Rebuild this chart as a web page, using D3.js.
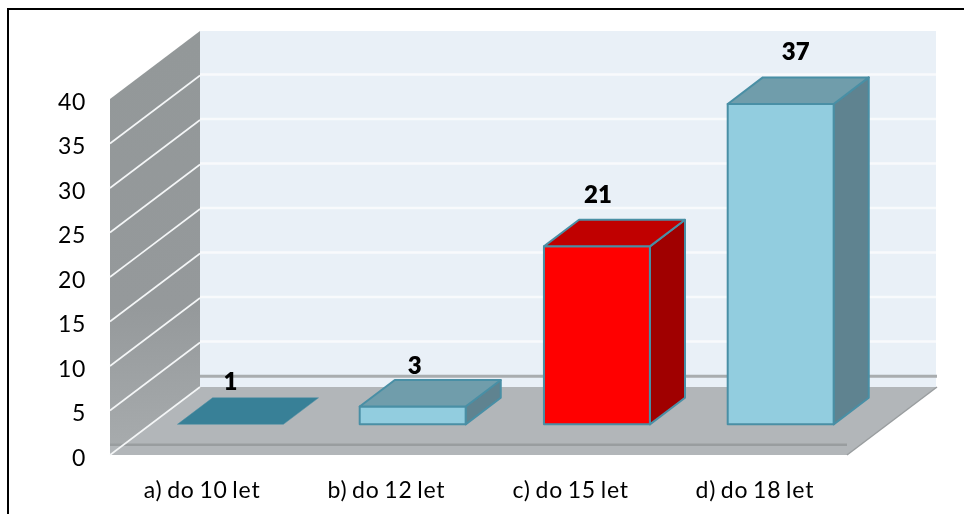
<!DOCTYPE html>
<html><head><meta charset="utf-8">
<script src="https://cdn.jsdelivr.net/npm/d3@7"></script>
<style>html,body{margin:0;padding:0;background:#fff}svg{display:block}text{font-family:Lato,"Open Sans",sans-serif;fill:#000}</style>
</head><body><svg id="c" width="964" height="514"></svg>
<script>
const categories = ["a) do 10 let","b) do 12 let","c) do 15 let","d) do 18 let"];
const values = [1,3,21,37];
const faceColors = ["#92cddf","#92cddf","#ff0000","#92cddf"];
const topColors = ["#378097","#6f9dab","#c00000","#6f9dab"];
const sideColors = ["#5e8390","#5e8390","#a00000","#5e8390"];
const yTicks = [0,5,10,15,20,25,30,35,40];
const baseValue = 1;

const svg = d3.select("#c");
const defs = svg.append("defs");
defs.append("filter").attr("id","soft").attr("x","-2%").attr("y","-2%").attr("width","104%").attr("height","104%")
  .append("feGaussianBlur").attr("stdDeviation",0.45);
const x = d3.scaleBand().domain(categories).range([110,847]).paddingInner(0.425).paddingOuter(0.2125);
const y = d3.scaleLinear().domain([0,40]).range([455,99]);
const depthX = d3.scaleLinear().domain([0,1]).range([0,90]);
const depthY = d3.scaleLinear().domain([0,1]).range([0,-68]);
const pt = (px,v,d)=>[px+depthX(d), y(v)+depthY(d)];
const poly = pts => d3.line()(pts)+"Z";
const barD0 = 0.32, barD1 = 0.71;
const barShift = [-0.5,-2.5,-2.5,-3];
const xL = x.range()[0], xR = x.range()[1];

// frame: left and top edges only
svg.append("path").attr("d","M8,514V9H964").attr("fill","none").attr("stroke","#000").attr("stroke-width",2);

const root = svg.append("g").attr("filter","url(#soft)");

// back wall
root.append("path").attr("d",poly([pt(xL,40,1),pt(xR-1,40,1),pt(xR-1,0,1),pt(xL,0,1)])).attr("fill","#e9f0f7");
root.selectAll(".gb").data(yTicks.slice(1,-1)).join("line")
  .attr("x1",d=>pt(xL,d,1)[0]).attr("x2",d=>pt(xR-1,d,1)[0])
  .attr("y1",d=>pt(xL,d,1)[1]-1).attr("y2",d=>pt(xL,d,1)[1]-1)
  .attr("stroke","#f8fafc").attr("stroke-width",2.5);
root.append("line").attr("x1",pt(xL,0,1)[0]).attr("x2",pt(xR,0,1)[0])
  .attr("y1",pt(xL,1.2,1)[1]).attr("y2",pt(xL,1.2,1)[1]).attr("stroke","#a9adaf").attr("stroke-width",3);

// left wall
const grad = defs.append("linearGradient").attr("id","w").attr("x1",0).attr("x2",0).attr("y1",0).attr("y2",1);
grad.append("stop").attr("offset",0).attr("stop-color","#939899");
grad.append("stop").attr("offset",0.65).attr("stop-color","#95999b");
grad.append("stop").attr("offset",1).attr("stop-color","#a8acae");
root.append("path").attr("d",poly([pt(xL,40,0),pt(xL,40,1),pt(xL,0,1),pt(xL,0,0)])).attr("fill","url(#w)");

// floor
const slab = 1.15;
root.append("path").attr("d",poly([pt(xL,0,1),pt(xR,0,1),pt(xR,0,0),pt(xL,0,0)])).attr("fill","#b2b6b9");
root.append("path").attr("d",poly([[xL,y(slab)],[xR,y(slab)],[xR,y(0)],[xL,y(0)]])).attr("fill","#b2b6b9");
root.append("line").attr("x1",xL).attr("x2",xR).attr("y1",y(slab)).attr("y2",y(slab)).attr("stroke","#999d9f").attr("stroke-width",2.5);
root.append("line").attr("x1",pt(xR,0,0)[0]).attr("y1",pt(xR,0,0)[1]).attr("x2",pt(xR,0,1)[0]).attr("y2",pt(xR,0,1)[1]).attr("stroke","#999d9f").attr("stroke-width",1.5);

// left wall gridlines
root.selectAll(".gl").data(yTicks.slice(0,-1)).join("line")
  .attr("x1",d=>pt(xL,d,0)[0]).attr("x2",d=>pt(xL,d,1)[0])
  .attr("y1",d=>pt(xL,d,0)[1]).attr("y2",d=>pt(xL,d,1)[1])
  .attr("stroke","#f4f6f7").attr("stroke-width",1.6);

// bars
const labelDy = [-8, -6, -17, -17];
const labelDx = [0, 2, 1, 15];
const bars = root.selectAll(".bar").data(categories.map((c,i)=>({c,i,v:values[i]}))).join("g");
function st(s){return s.attr("stroke","#4a8fa5").attr("stroke-width",2).attr("stroke-linejoin","round");}
bars.each(function(b){
  const g = d3.select(this), l = x(b.c)+barShift[b.i], r = l + x.bandwidth();
  if (b.v > baseValue) {
    st(g.append("path")).attr("fill",sideColors[b.i]).attr("d",poly([pt(r,b.v,barD0),pt(r,b.v,barD1),pt(r,baseValue,barD1),pt(r,baseValue,barD0)]));
    st(g.append("path")).attr("fill",faceColors[b.i]).attr("d",poly([pt(l,b.v,barD0),pt(r,b.v,barD0),pt(r,baseValue,barD0),pt(l,baseValue,barD0)]));
  }
  st(g.append("path")).attr("fill",topColors[b.i]).attr("stroke-width",b.v>baseValue?2:0.5).attr("d",poly([pt(l,b.v,barD0),pt(r,b.v,barD0),pt(r,b.v,barD1),pt(l,b.v,barD1)]));
  const p = pt(l+x.bandwidth()/2,b.v,barD0), q = pt(l,b.v,barD1);
  g.append("text").attr("x",p[0]+labelDx[b.i]).attr("y",q[1]+labelDy[b.i])
    .attr("text-anchor","middle").attr("font-weight",800).attr("font-size",24).text(b.v);
});

// axis labels
root.selectAll(".yt").data(yTicks).join("text")
  .attr("x",86).attr("y",d=>y(d)+10.5).attr("text-anchor","end").attr("font-size",23).attr("letter-spacing",0.6).text(d=>d);
root.selectAll(".xt").data(categories).join("text")
  .attr("x",d=>x(d)+x.bandwidth()/2).attr("y",498).attr("text-anchor","middle").attr("font-size",23).attr("letter-spacing",0.8).attr("word-spacing",-2).text(d=>d);
</script></body></html>
